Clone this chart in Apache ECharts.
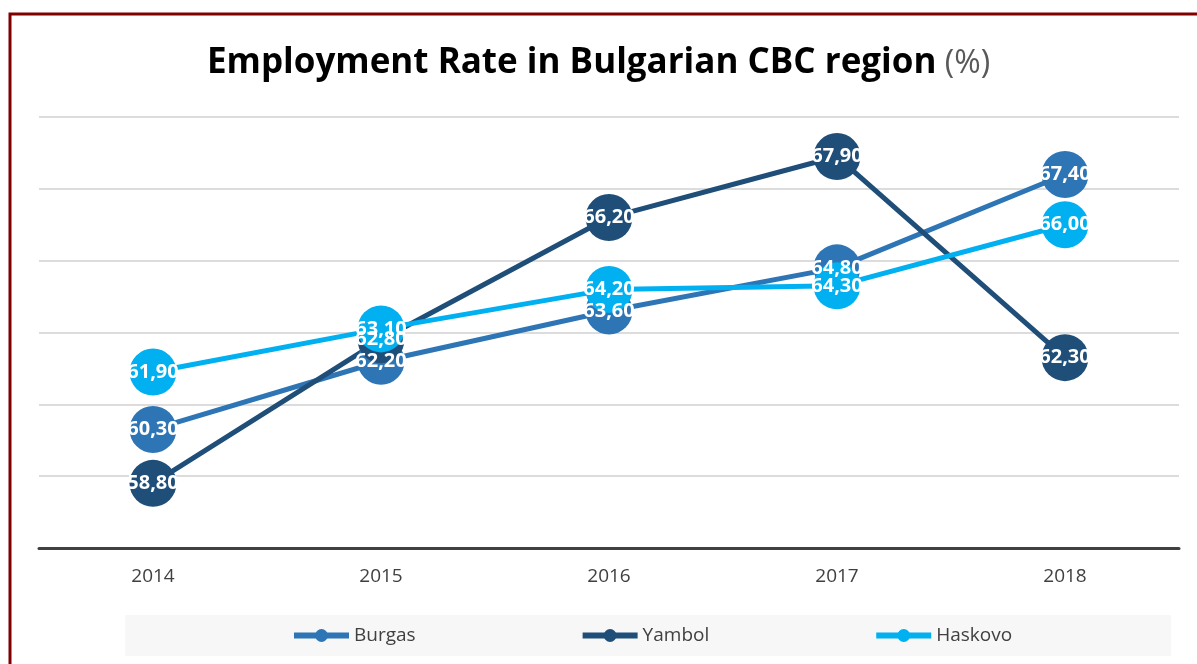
<!DOCTYPE html>
<html>
<head>
<meta charset="utf-8">
<script src="https://cdn.jsdelivr.net/npm/echarts@6/dist/echarts.min.js"></script>
<style>
  html, body { margin: 0; padding: 0; background: #fff; }
  #chart { width: 1197px; height: 664px; }
</style>
</head>
<body>
<div id="chart"></div>
<script>
// data
var years = ['2014', '2015', '2016', '2017', '2018'];
var burgas = [60.3, 62.2, 63.6, 64.8, 67.4];
var yambol = [58.8, 62.8, 66.2, 67.9, 62.3];
var haskovo = [61.9, 63.1, 64.2, 64.3, 66.0];

var chart = echarts.init(document.getElementById('chart'));

function mkSeries(name, data, color) {
  return {
    name: name,
    type: 'line',
    data: data,
    symbol: 'circle',
    symbolSize: 47,
    itemStyle: { color: color },
    lineStyle: { color: color, width: 5 },
    label: {
      show: true,
      position: 'inside',
      color: '#fff',
      fontFamily: 'Open Sans',
      fontWeight: 'bold',
      fontSize: 20,
      formatter: function (p) {
        return p.value.toFixed(2).replace('.', ',');   // comma decimals like the source
      }
    },
    emphasis: { disabled: true }
  };
}

chart.setOption({
  animation: false,
  title: {
    left: 'center',
    top: 41,
    text: '{a|Employment Rate in Bulgarian CBC region}{b| (%)}',
    textStyle: {
      rich: {
        a: { fontFamily: 'Open Sans', fontWeight: 'bold', fontSize: 35, color: '#000' },
        b: { fontFamily: 'Open Sans', fontWeight: 'normal', fontSize: 32, color: '#595959' }
      }
    }
  },
  graphic: [{
    type: 'rect',
    shape: { x: 10, y: 14, width: 1400, height: 900 },
    style: { fill: 'none', stroke: '#800000', lineWidth: 3 },
    silent: true
  }],
  legend: {
    left: 125,
    top: 615,
    padding: [11, 159, 11, 166],
    backgroundColor: '#f7f7f7',
    itemGap: 164,
    itemWidth: 55,
    itemHeight: 16,
    lineStyle: { width: 6 },
    textStyle: { fontFamily: 'Open Sans', fontSize: 19, color: '#404040' },
    data: ['Burgas', 'Yambol', 'Haskovo']
  },
  grid: { left: 39, right: 18, top: 117, bottom: 116 },
  xAxis: {
    type: 'category',
    data: years,
    axisLine: { lineStyle: { color: '#404040', width: 3 } },
    axisTick: { show: false },
    axisLabel: { fontFamily: 'Open Sans', fontSize: 19, color: '#404040', margin: 19 }
  },
  yAxis: {
    type: 'value',
    min: 57,
    max: 69,
    interval: 2,
    axisLine: { show: false },
    axisTick: { show: false },
    axisLabel: { show: false },
    splitLine: { lineStyle: { color: '#d0d0d0', width: 1.5 } }
  },
  series: [
    mkSeries('Burgas', burgas, '#2E75B6'),
    mkSeries('Yambol', yambol, '#1F4E79'),
    mkSeries('Haskovo', haskovo, '#00B0F0')
  ]
});
</script>
</body>
</html>
